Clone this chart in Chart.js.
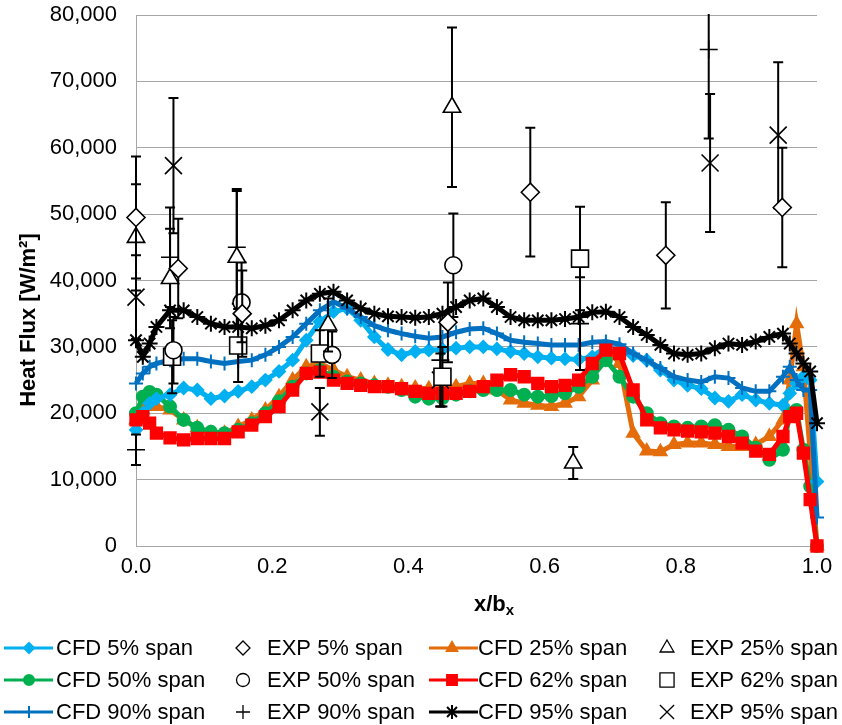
<!DOCTYPE html>
<html lang="en">
<head>
<meta charset="UTF-8">
<title>Heat Flux vs x/bx</title>
<style>
  body { margin: 0; background: #fff; }
  #wrap { width: 842px; height: 725px; }
</style>
</head>
<body>
<div id="wrap"><canvas id="heatChart" width="842" height="725"></canvas></div>
<script src="https://cdn.jsdelivr.net/npm/chart.js"></script>
<script>
// CFD curves, all sampled on the same x/bx positions
const xCfd = [0, 0.01, 0.02, 0.03, 0.05, 0.07, 0.09, 0.11, 0.13, 0.15, 0.17, 0.19, 0.21, 0.23, 0.25, 0.27, 0.29,
  0.31, 0.33, 0.35, 0.37, 0.39, 0.41, 0.43, 0.45, 0.47, 0.49, 0.51, 0.53, 0.55, 0.57, 0.59, 0.61, 0.63, 0.65,
  0.67, 0.69, 0.71, 0.73, 0.75, 0.77, 0.79, 0.81, 0.83, 0.85, 0.87, 0.89, 0.91, 0.93, 0.95, 0.96, 0.97, 0.98, 0.99, 1.0];

const cfd5 = [17500, 20000, 21500, 22200, 22800, 23800, 23500, 22200, 22600, 23300, 24000, 25000, 26300, 28000, 31000, 33800, 35300,
  35800, 34000, 31500, 29600, 28800, 29300, 29500, 29600, 29800, 30000, 30000, 29700, 29300, 29000, 28500, 28300, 28200, 28100,
  28500, 30000, 29500, 28700, 28000, 26500, 25000, 24200, 23700, 22300, 21800, 22800, 22000, 21500, 21200, 23000, 24500, 25500, 25000, 9700];
const cfd25 = [19000, 20500, 21000, 21000, 20500, 19000, 17800, 17000, 17000, 18000, 19000, 20500, 22500, 25000, 27000, 27500, 26500,
  25500, 25000, 24500, 24200, 24000, 23800, 23700, 23700, 24000, 24500, 24500, 23500, 22000, 21500, 21200, 21000, 21500, 22500,
  25000, 30000, 27500, 17000, 14300, 14200, 15300, 15500, 15500, 15300, 15000, 15000, 15300, 16500, 19000, 25000, 33500, 27000, 14000, 0];
const cfd50 = [20000, 22500, 23200, 22800, 21000, 19000, 17800, 17200, 17000, 17500, 18500, 20000, 21800, 24000, 26000, 26500, 25500,
  24800, 24500, 24200, 24000, 23500, 22500, 22200, 22300, 22800, 23300, 23500, 23500, 23500, 22800, 22500, 22600, 23000, 24000,
  25500, 28000, 25500, 22500, 20000, 18500, 18000, 17800, 18000, 18200, 17500, 16500, 14800, 13000, 14500, 20000, 20500, 14500, 9000, 0];
const cfd62 = [19000, 19500, 18500, 17000, 16300, 16000, 16200, 16200, 16200, 17200, 18200, 19500, 21000, 23500, 26000, 26200, 25000,
  24500, 24200, 24000, 24000, 23700, 23300, 23000, 23000, 23000, 23300, 24000, 25000, 25800, 25500, 24500, 24000, 24200, 25000,
  27500, 29500, 29000, 23500, 19000, 17800, 17500, 17300, 17200, 17000, 16500, 15500, 14300, 13800, 16500, 19500, 20000, 14000, 7000, 0];
const cfd90 = [24500, 26000, 27000, 27500, 28000, 28200, 28200, 27800, 27500, 27800, 28000, 28800, 30000, 31500, 33500, 35500, 36800,
  35800, 34500, 33200, 32500, 32000, 31600, 31300, 31500, 32200, 32700, 32800, 32000, 31000, 30700, 30500, 30300, 30300, 30300,
  30700, 30800, 30400, 29000, 28000, 26800, 25500, 25000, 24700, 25500, 25300, 23800, 23300, 23300, 25500, 27000, 25000, 23500, 23500, 4300];
const cfd95 = [31000, 28500, 30500, 33000, 35500, 35500, 34500, 33500, 33000, 33000, 32800, 33200, 34000, 35500, 37000, 38000, 38300,
  37000, 35800, 35000, 34600, 34500, 34400, 34500, 35000, 36000, 37000, 37300, 36000, 34500, 34000, 34000, 34000, 34200, 34500,
  35200, 35300, 34500, 33000, 31800, 30300, 29000, 28800, 29000, 29800, 30500, 30300, 30800, 31500, 32000, 30500, 29000, 27500, 26300, 18500];

// experiments: position, measured value, error (+/-)
const exp5X = [0.0, 0.062, 0.156, 0.458, 0.579, 0.778, 0.949];
const exp5Y = [49500, 41800, 35000, 33700, 53300, 43800, 51000];
const exp5Err = [9200, 7500, 6500, 6000, 9700, 8000, 9000];
const exp25X = [0.0, 0.05, 0.148, 0.282, 0.464, 0.642];
const exp25Y = [46500, 40300, 43500, 33300, 66100, 12500];
const exp25Err = [8000, 7500, 10300, 4000, 12000, 2400];
const exp50X = [0.055, 0.155, 0.288, 0.466];
const exp50Y = [29500, 36700, 28800, 42300];
const exp50Err = [5000, 6000, 3500, 7800];
const exp62X = [0.053, 0.15, 0.27, 0.45, 0.652];
const exp62Y = [28500, 30200, 29000, 25500, 43300];
const exp62Err = [5500, 5500, 3500, 4500, 7800];
const exp90X = [0.0, 0.05, 0.148, 0.447, 0.652, 0.841];
const exp90Y = [14500, 43500, 45000, 28000, 33500, 74800];
const exp90Err = [2300, 7500, 8500, 7000, 7000, 13400];
const exp95X = [0.0, 0.055, 0.27, 0.447, 0.843, 0.943];
const exp95Y = [37500, 57300, 20200, 25000, 57700, 61900];
const exp95Err = [6300, 10200, 3600, 4000, 10400, 11000];

const xTicks = [0, 0.2, 0.4, 0.6, 0.8, 1.0];
const yTicks = [0, 10000, 20000, 30000, 40000, 50000, 60000, 70000, 80000];

const FONT = '"Liberation Sans", Arial, sans-serif';

function pts(xs, ys) {
  return xs.map((x, i) => ({ x: x, y: ys[i] }));
}

function cfdSet(label, ys, color, style, radius, order) {
  return {
    label: label, data: pts(xCfd, ys), showLine: true, clip: false,
    borderColor: color, backgroundColor: color, borderWidth: 5,
    pointStyle: style, pointRadius: radius, pointBorderWidth: 2,
    pointBackgroundColor: color, pointBorderColor: color,
    legendRadius: radius - 1,
    order: order
  };
}

function expSet(label, xs, ys, errs, style, radius) {
  return {
    label: label, data: pts(xs, ys), showLine: false, errors: errs, clip: false,
    borderColor: '#000', backgroundColor: '#fff',
    pointStyle: style, pointRadius: radius, pointBorderWidth: 1.6,
    pointBackgroundColor: '#fff', pointBorderColor: '#000',
    legendRadius: radius - 2,
    order: 0
  };
}

// legend order: row by row, four per row
const datasets = [
  cfdSet('CFD 5% span', cfd5, '#00b0f0', 'rectRot', 6, 4),
  expSet('EXP 5% span', exp5X, exp5Y, exp5Err, 'rectRot', 9),
  cfdSet('CFD 25% span', cfd25, '#e46c0a', 'triangle', 7, 6),
  expSet('EXP 25% span', exp25X, exp25Y, exp25Err, 'triangle', 10),
  cfdSet('CFD 50% span', cfd50, '#00b050', 'circle', 6, 5),
  expSet('EXP 50% span', exp50X, exp50Y, exp50Err, 'circle', 8.5),
  cfdSet('CFD 62% span', cfd62, '#ff0000', 'rect', 8, 2),
  expSet('EXP 62% span', exp62X, exp62Y, exp62Err, 'rect', 12),
  cfdSet('CFD 90% span', cfd90, '#0070c0', 'cross', 7, 3),
  expSet('EXP 90% span', exp90X, exp90Y, exp90Err, 'cross', 9),
  cfdSet('CFD 95% span', cfd95, '#000000', 'star', 8, 1),
  expSet('EXP 95% span', exp95X, exp95Y, exp95Err, 'crossRot', 12)
];

// error bars drawn just before each experimental dataset, so markers sit on top
const errorBars = {
  id: 'errorBars',
  beforeDatasetDraw(chart, args) {
    const ds = chart.data.datasets[args.index];
    if (!ds.errors) return;
    const ctx = chart.ctx, xs = chart.scales.x, ys = chart.scales.y, a = chart.chartArea;
    ctx.save();
    ctx.beginPath();
    ctx.rect(a.left - 10, a.top - 1, a.right - a.left + 20, a.bottom - a.top + 2);
    ctx.clip();
    ctx.strokeStyle = '#000';
    ctx.lineWidth = 2;
    ds.data.forEach((p, i) => {
      const px = xs.getPixelForValue(p.x);
      const top = ys.getPixelForValue(p.y + ds.errors[i]);
      const bot = ys.getPixelForValue(p.y - ds.errors[i]);
      ctx.beginPath();
      ctx.moveTo(px, top); ctx.lineTo(px, bot);
      ctx.moveTo(px - 5, top); ctx.lineTo(px + 5, top);
      ctx.moveTo(px - 5, bot); ctx.lineTo(px + 5, bot);
      ctx.stroke();
    });
    ctx.restore();
  }
};

// axis titles and the 4-column legend
const extras = {
  id: 'extras',
  afterDraw(chart) {
    const ctx = chart.ctx;
    ctx.save();
    ctx.fillStyle = '#000';
    ctx.textBaseline = 'middle';

    ctx.font = 'bold 22px ' + FONT;
    ctx.save();
    ctx.translate(29, 320);
    ctx.rotate(-Math.PI / 2);
    ctx.textAlign = 'center';
    ctx.fillText('Heat Flux [W/m\u00b2]', 0, 0);
    ctx.restore();

    ctx.textAlign = 'left';
    const w1 = ctx.measureText('x/b').width;
    ctx.font = 'bold 15px ' + FONT;
    const w2 = ctx.measureText('x').width;
    const x0 = 494 - (w1 + w2) / 2;
    ctx.font = 'bold 22px ' + FONT;
    ctx.fillText('x/b', x0, 605);
    ctx.font = 'bold 15px ' + FONT;
    ctx.fillText('x', x0 + w1, 611);

    const lineX = [4, null, 429, null];
    const markX = [29, 243, 452, 667];
    const textX = [56, 267, 478, 690];
    const rowY = [648, 680, 712];
    chart.data.datasets.forEach((ds, i) => {
      const col = i % 4, row = Math.floor(i / 4);
      const y = rowY[row];
      if (lineX[col] !== null) {
        ctx.strokeStyle = ds.borderColor;
        ctx.lineWidth = 3;
        ctx.beginPath();
        ctx.moveTo(lineX[col], y);
        ctx.lineTo(lineX[col] + 49, y);
        ctx.stroke();
      }
      ctx.strokeStyle = ds.pointBorderColor;
      ctx.fillStyle = ds.pointBackgroundColor;
      ctx.lineWidth = ds.errors ? 1.3 : 2;
      Chart.helpers.drawPoint(ctx, {
        pointStyle: ds.pointStyle, radius: ds.legendRadius,
        borderWidth: ds.errors ? 1.3 : 2, rotation: 0
      }, markX[col], y);
      ctx.fillStyle = '#000';
      ctx.font = '22px ' + FONT;
      ctx.fillText(ds.label, textX[col], y + 1);
    });
    ctx.restore();
  }
};

new Chart(document.getElementById('heatChart'), {
  type: 'scatter',
  data: { datasets: datasets },
  options: {
    responsive: false,
    animation: false,
    layout: { padding: { left: 0, right: 25, top: 15, bottom: 0 } },
    plugins: { legend: { display: false }, tooltip: { enabled: false } },
    scales: {
      x: {
        type: 'linear', min: 0, max: 1,
        afterFit: s => { s.height = 179; s.paddingLeft = 0; s.paddingRight = 0; },
        afterBuildTicks: s => { s.ticks = xTicks.map(v => ({ value: v })); },
        grid: { display: false, drawTicks: false },
        border: { display: true, color: '#a6a6a6', width: 1 },
        ticks: {
          padding: 8, color: '#000', font: { family: FONT, size: 22 },
          callback: v => v.toFixed(1)
        }
      },
      y: {
        type: 'linear', min: 0, max: 80000,
        afterFit: s => { s.width = 136; s.paddingTop = 0; s.paddingBottom = 0; },
        afterBuildTicks: s => { s.ticks = yTicks.map(v => ({ value: v })); },
        grid: { color: '#a6a6a6', lineWidth: 1, drawTicks: false },
        border: { display: true, color: '#a6a6a6', width: 1 },
        ticks: {
          padding: 19, color: '#000', font: { family: FONT, size: 22 },
          callback: v => v.toLocaleString('en-US')
        }
      }
    }
  },
  plugins: [errorBars, extras]
});
</script>
</body>
</html>
